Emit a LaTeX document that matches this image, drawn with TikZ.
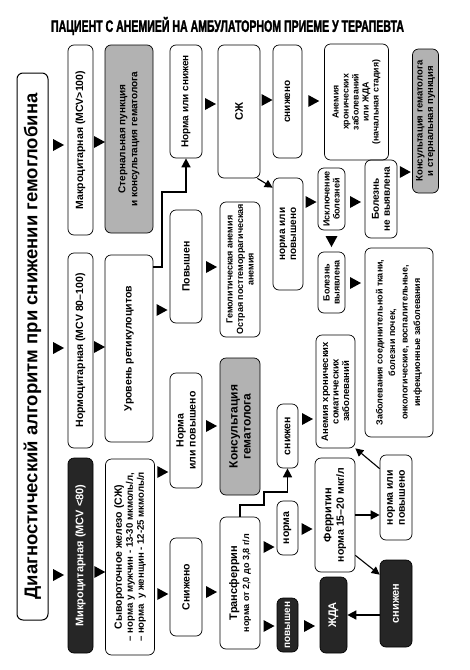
\documentclass[tikz,border=0pt]{standalone}
\usepackage{fontspec}
\setmainfont{Liberation Sans}
\newfontfamily\headfont[FakeStretch=0.64,FakeBold=1.6]{Liberation Sans}
\usetikzlibrary{arrows.meta,decorations.markings}

\tikzset{
  box/.style={draw,line width=0.7pt,rounded corners=6pt,rotate=90,align=center,inner sep=1pt,font=\bfseries\fontsize{10}{11}\selectfont},
  dark/.style={box,fill=black!85,text=white},
  grey/.style={box,fill=black!30},
  gap/.style={postaction={decorate},decoration={markings,mark=at position 0.5 with {\fill(-5pt,-6pt)--(6pt,0pt)--(-5pt,6pt)--cycle;}}},
  link/.style={draw,line width=1.6pt,-{Triangle[length=9pt,width=9pt]}},
  slant/.style={draw,line width=1.1pt,-{Triangle[length=8pt,width=8pt]}},
}
\newcommand\fsz[2]{\fontsize{#1}{#2}\selectfont}

\begin{document}
\begin{tikzpicture}[x=1pt,y=-1pt]
  \useasboundingbox(0,0)rectangle(470,670);
  %заголовок
  \node[font=\headfont\bfseries\fsz{16.5}{17}](head)at(227.5,26){ПАЦИЕНТ С АНЕМИЕЙ НА АМБУЛАТОРНОМ ПРИЕМЕ У ТЕРАПЕВТА};
  %столбец 1
  \node[box,line width=1pt,minimum width=547pt,minimum height=31pt,font=\bfseries\fsz{18.5}{19}](title)at(32.5,346.5){Диагностический алгоритм при снижении гемоглобина};
  %столбец 2
  \node[box,minimum width=190pt,minimum height=25pt,font=\bfseries\fsz{10.5}{11}](makro)at(80.5,140){Макроцитарная (MCV>100)};
  \node[box,minimum width=195pt,minimum height=25pt,font=\bfseries\fsz{10.5}{11}](normo)at(80.5,350.5){Нормоцитарная (MCV 80–100)};
  \node[dark,minimum width=195pt,minimum height=25pt,font=\bfseries\fsz{11}{12}](mikro)at(80.5,555.5){Микроцитарная (MCV <80)};
  %столбец 3
  \node[grey,minimum width=188pt,minimum height=48pt,font=\bfseries\fsz{10}{12}](sternal)at(129,139){Стернальная пункция\\и консультация гематолога};
  \node[box,minimum width=187pt,minimum height=48pt,font=\bfseries\fsz{10.5}{12}](retik)at(129,348.5){Уровень ретикулоцитов};
  \node[box,minimum width=196pt,minimum height=49pt,font=\bfseries\fsz{9.6}{11}](szh)at(130,557){{\fsz{10.5}{12}Сывороточное железо (СЖ)}\\– норма у мужчин - 13-30 мкмоль/л,\\– норма~ у женщин - 12-25 мкмоль/л};
  %столбец 4
  \node[box,minimum width=113pt,minimum height=32pt](normsnizh)at(186,101.5){Норма или снижен};
  \node[box,minimum width=113pt,minimum height=32pt,font=\bfseries\fsz{10.5}{12}](povyshen1)at(186,266.5){Повышен};
  \node[box,minimum width=115pt,minimum height=32pt,font=\bfseries\fsz{10.5}{12}](normpov1)at(186,430.5){Норма\\или повышено};
  \node[box,minimum width=98pt,minimum height=32pt,font=\bfseries\fsz{10.5}{12}](snizheno1)at(186,587){Снижено};
  %столбец 5
  \node[box,minimum width=133pt,minimum height=42pt,font=\bfseries\fsz{11}{12}](SZh)at(239,111.5){СЖ};
  \node[box,minimum width=135pt,minimum height=40pt,font=\bfseries\fsz{9}{10.5}](gemolit)at(240,269.5){Гемолитическая анемия\\Острая постгеморрагическая\\анемия};
  \node[grey,minimum width=137pt,minimum height=40pt,font=\bfseries\fsz{12}{13}](konsult)at(240,426.5){Консультация\\гематолога};
  \node[box,minimum width=132pt,minimum height=40pt,font=\bfseries\fsz{9}{12}](transf)at(240,583){{\fsz{11}{12}Трансферрин}\\норма от 2,0 до 3,8 г/л};
  %столбец 6
  \node[box,minimum width=113pt,minimum height=29pt](snizheno2)at(287.5,101.5){снижено};
  \node[box,minimum width=112pt,minimum height=30pt](normpov2)at(288,234){норма или\\повышено};
  \node[box,minimum width=64pt,minimum height=21pt,font=\bfseries\fsz{10.5}{11}](snizhen3)at(287.5,436){снижен};
  \node[box,minimum width=54pt,minimum height=21pt,font=\bfseries\fsz{10.5}{11}](norma)at(287.5,528){норма};
  \node[dark,minimum width=54pt,minimum height=21pt](povyshen2)at(287.5,625){повышен};
  %столбец 7
  \node[box,minimum width=116pt,minimum height=64pt,font=\bfseries\fsz{8.8}{10}](anemZhDA)at(356.5,102){Анемия\\хронических\\заболеваний\\или ЖДА\\(начальная стадия)};
  \node[box,minimum width=62pt,minimum height=27pt,font=\bfseries\fsz{9}{10}](iskl)at(331.5,199){Исключение\\болезней};
  \node[box,minimum width=61pt,minimum height=27pt,font=\bfseries\fsz{9}{10}](bolvyyav)at(331.5,282.5){Болезнь\\выявлена};
  \node[box,minimum width=113pt,minimum height=39pt,font=\bfseries\fsz{9.5}{10.5}](anemSomat)at(335.5,391.5){Анемия хронических\\соматических\\заболеваний};
  \node[box,minimum width=114pt,minimum height=40pt,font=\bfseries\fsz{10.5}{12.5}](ferritin)at(335,515){{\fsz{11}{12.5}Ферритин}\\норма 15–20 мкг/л};
  \node[dark,minimum width=76pt,minimum height=27pt,font=\bfseries\fsz{11}{12}](ZhDA)at(333.5,615){ЖДА};
  %столбец 8
  \node[box,minimum width=78pt,minimum height=32pt](bolnevyyav)at(381,199){Болезнь\\не выявлена};
  \node[box,minimum width=189pt,minimum height=68pt,font=\bfseries\fsz{9}{12.5}](zabol)at(399,342.5){Заболевания соединительной ткани,\\болезни почек,\\онкологические, воспалительные,\\инфекционные заболевания};
  \node[box,minimum width=85pt,minimum height=32pt,font=\bfseries\fsz{10.5}{12}](normpov3)at(396,497.5){норма или\\повышено};
  \node[dark,minimum width=87pt,minimum height=32pt,font=\bfseries\fsz{11}{12}](snizhen4)at(396,603.5){снижен};
  %столбец 9
  \node[grey,minimum width=144pt,minimum height=26pt,font=\bfseries\fsz{9.5}{10.5}](konsult2)at(425.5,121){Консультация гематолога\\и стернальная пункция};
  %треугольники между столбцами
  \path[gap](title.south|-0,145)to(makro.north|-0,145);
  \path[gap](title.south|-0,348)to(normo.north|-0,348);
  \path[gap](title.south|-0,575)to(mikro.north|-0,575);
  \path[gap](makro.south|-0,142)to(sternal.north|-0,142);
  \path[gap](normo.south|-0,347)to(retik.north|-0,347);
  \path[gap](mikro.south|-0,572)to(szh.north|-0,572);
  \path[gap](retik.south|-0,310)to(povyshen1.north|-0,310);
  \path[gap](szh.south|-0,472)to(normpov1.north|-0,472);
  \path[gap](szh.south|-0,594)to(snizheno1.north|-0,594);
  \path[gap](normsnizh.south|-0,104)to(SZh.north|-0,104);
  \path[gap](povyshen1.south|-0,267)to(gemolit.north|-0,267);
  \path[gap](normpov1.south|-0,426)to(konsult.north|-0,426);
  \path[gap](snizheno1.south|-0,592)to(transf.north|-0,592);
  \path[gap](SZh.south|-0,100)to(snizheno2.north|-0,100);
  \path[gap](transf.south|-0,547)to(norma.north|-0,547);
  \path[gap](transf.south|-0,626)to(povyshen2.north|-0,626);
  \path[gap](snizheno2.south|-0,101)to(anemZhDA.north|-0,101);
  \path[gap](normpov2.south|-0,202)to(iskl.north|-0,202);
  \path[gap](snizhen3.south|-0,419)to(anemSomat.north|-0,419);
  \path[gap](norma.south|-0,529)to(ferritin.north|-0,529);
  \path[gap](povyshen2.south|-0,626)to(ZhDA.north|-0,626);
  \path[gap](iskl.south|-0,202)to(bolnevyyav.north|-0,202);
  \path[gap](bolvyyav.south|-0,283)to(zabol.north|-0,283);
  \path[gap](iskl.west)to(bolvyyav.east);
  \path[gap](bolnevyyav.south|-0,172)to(konsult2.north|-0,172);
  %стрелки с линиями
  \path[link](retik.south|-0,267)-|(162,192)-|(normsnizh.west);
  \path[link](transf.east)|-(264,505)|-(287.5,492)--(snizhen3.west);
  \path[slant]([xshift=-3pt]SZh.south west)to([yshift=-10pt]normpov2.north east);
  \path[link](ferritin.south)to(normpov3.north|-ferritin.south);
  \path[slant]([yshift=-14pt]normpov3.north east)to(anemSomat.south west);
  \path[slant]([yshift=17pt]ferritin.south west)to([yshift=-15pt]snizhen4.north east);
  \path[link](snizhen4.north|-ZhDA)to(ZhDA.south);
\end{tikzpicture}
\end{document}
